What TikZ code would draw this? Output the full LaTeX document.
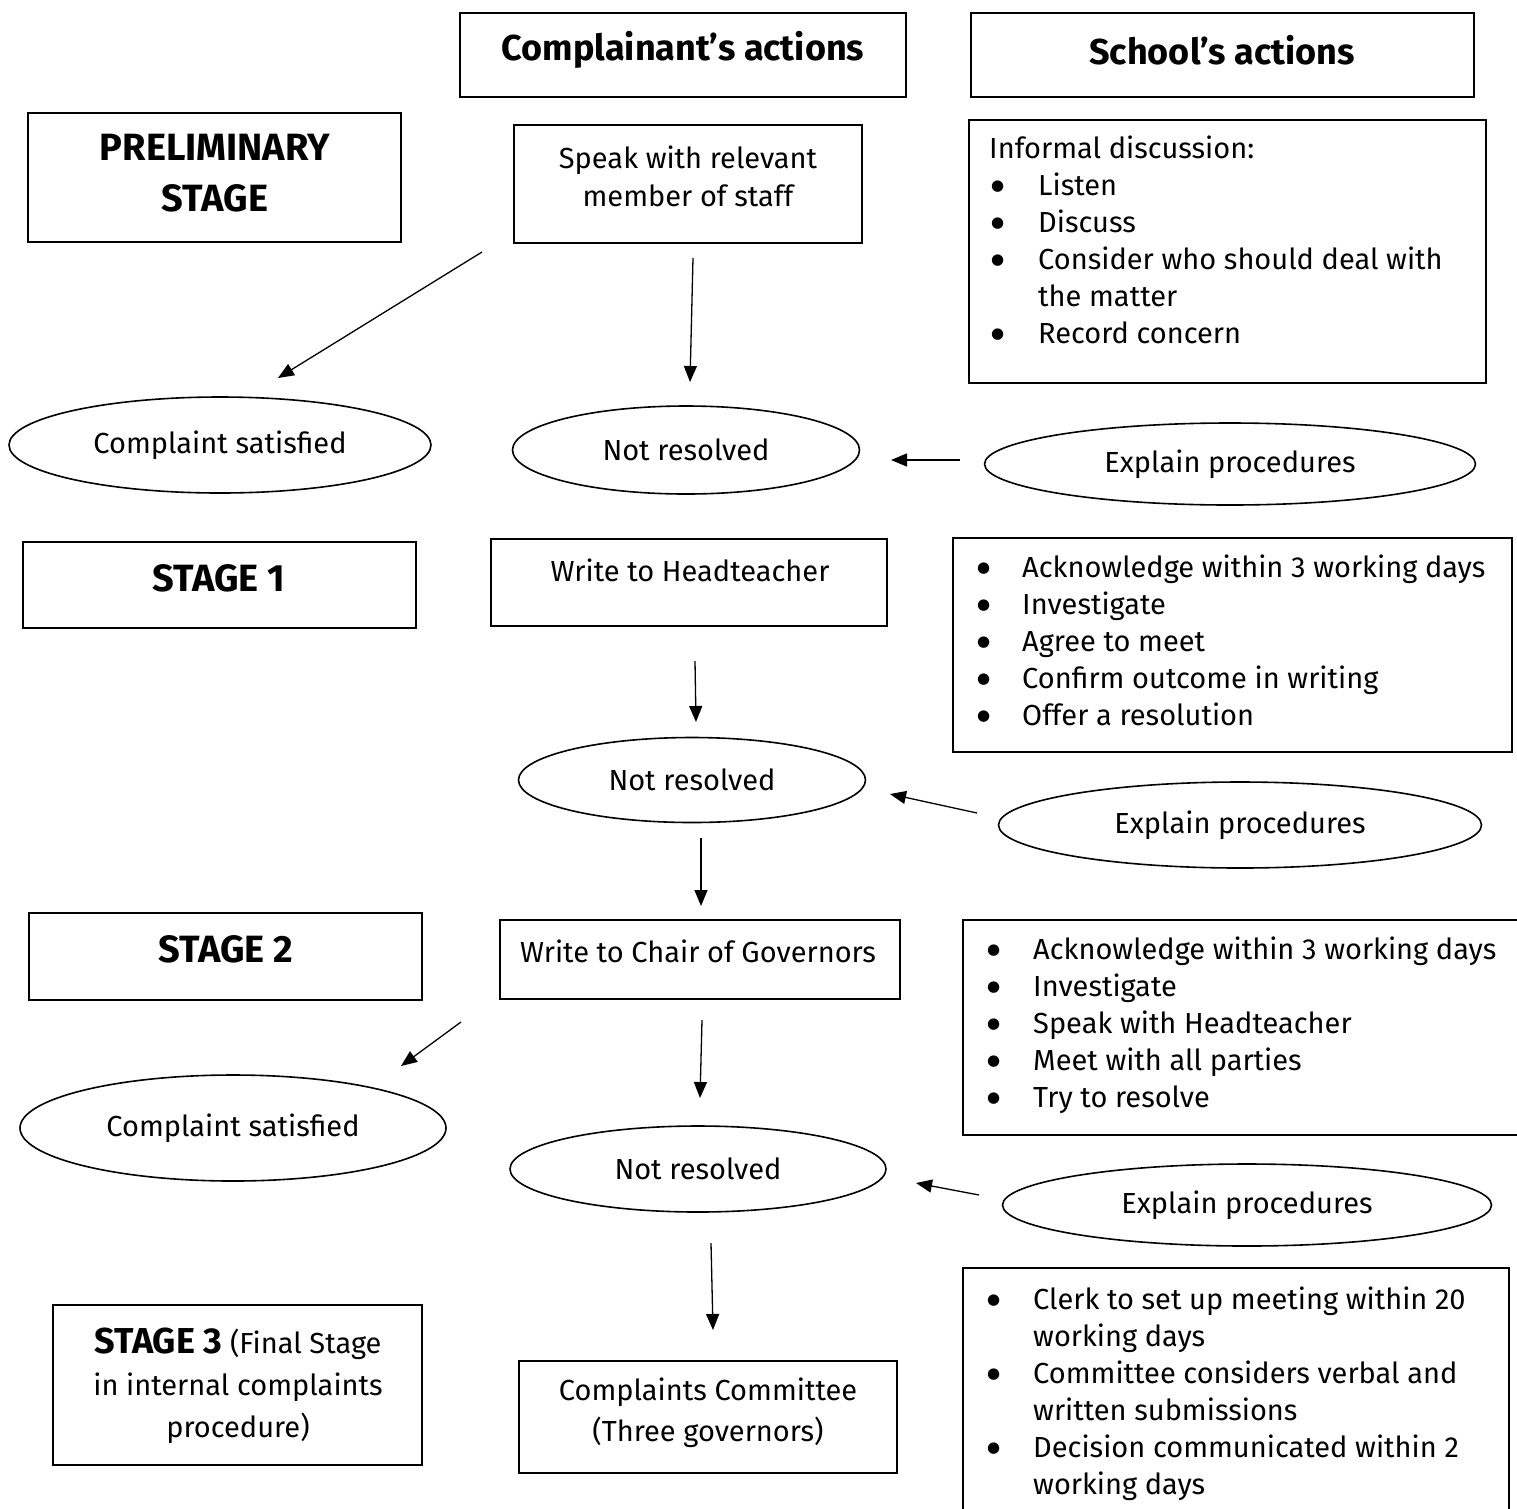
\documentclass[tikz,border=0pt]{standalone}
\usepackage{fontspec}
\setmainfont{Fira Sans}
\newfontfamily\dvsans{DejaVu Sans}
\usetikzlibrary{shapes.geometric,arrows.meta,fit}
\newcommand{\bul}[1]{\makebox[#1][l]{\hspace*{2pt}\raisebox{5pt}{\dvsans\fontsize{15}{15}\selectfont ●}}}
\begin{document}
\begin{tikzpicture}[x=1pt,y=-1pt,
  box/.style={draw,line width=1.5pt,inner sep=0pt},
  oval/.style={draw,ellipse,line width=1.6pt,inner sep=0pt,font=\fontsize{29}{37}\selectfont},
  txt/.style={font=\fontsize{29}{38}\selectfont,align=center,inner sep=0pt},
  hd/.style={font=\fontsize{36}{51}\selectfont\bfseries,align=center,inner sep=0pt},
  sg/.style={font=\fontsize{38}{51}\selectfont\bfseries,align=center,inner sep=0pt},
  lst/.style={font=\fontsize{29}{37}\selectfont,align=left,inner sep=0pt,anchor=north west},
  arr/.style={line width=1.3pt,-{Triangle[length=16pt,width=13pt]}}]
\useasboundingbox (0,0) rectangle (1517,1508);
\fill[white] (0,0) rectangle (1517,1508);

% header boxes
\node[box,fit={(460,13) (906,97)}] (hC) {};
\node[hd] (hCt) at (683,50) {Complainant’s actions};
\node[box,fit={(971,13) (1474,97)}] (hS) {};
\node[hd] (hSt) at (1222,50) {School’s actions};

% preliminary stage
\node[box,fit={(28,113) (401,242)}] (pre) {};
\node[sg] (pret) at (215,173) {PRELIMINARY\\STAGE};
\node[box,fit={(514,125) (862,243)}] (spk) {};
\node[txt] (spkt) at (688,176) {Speak with relevant\\member of staff};
\node[box,fit={(969,120) (1486,383)}] (inf) {};
\node[lst] (inft) at (989,136) {Informal discussion:\\
\bul{49pt}Listen\\
\bul{49pt}Discuss\\
\bul{49pt}Consider who should deal with\\
\hspace*{49pt}the matter\\
\bul{49pt}Record concern};

\node[oval,minimum width=422pt,minimum height=96pt] (cs1) at (220,445) {Complaint satisfied};
\node[oval,minimum width=347pt,minimum height=88pt] (nr1) at (686,450) {Not resolved};
\node[oval,minimum width=491pt,minimum height=82pt] (ep1) at (1230,464) {Explain procedures};

% stage 1
\node[box,fit={(23,542) (416,628)}] (st1) {};
\node[sg] (st1t) at (219,578) {STAGE 1};
\node[box,fit={(491,539) (887,626)}] (wht) {};
\node[txt] (whtt) at (690,570) {Write to Headteacher};
\node[box,fit={(953,538) (1512,752)}] (l1) {};
\node[lst] (l1t) at (975,555) {\bul{47pt}Acknowledge within 3 working days\\
\bul{47pt}Investigate\\
\bul{47pt}Agree to meet\\
\bul{47pt}Confirm outcome in writing\\
\bul{47pt}Offer a resolution};

\node[oval,minimum width=347pt,minimum height=85pt] (nr2) at (692,780) {Not resolved};
\node[oval,minimum width=483pt,minimum height=86pt] (ep2) at (1240,825) {Explain procedures};

% stage 2
\node[box,fit={(29,913) (422,1000)}] (st2) {};
\node[sg] (st2t) at (226,949) {STAGE 2};
\node[box,fit={(500,920) (900,999)}] (wcg) {};
\node[txt] (wcgt) at (698,951) {Write to Chair of Governors};
\node[box,fit={(963,920) (1530,1135)}] (l2) {};
\node[lst] (l2t) at (985,937) {\bul{48pt}Acknowledge within 3 working days\\
\bul{48pt}Investigate\\
\bul{48pt}Speak with Headteacher\\
\bul{48pt}Meet with all parties\\
\bul{48pt}Try to resolve};

\node[oval,minimum width=426pt,minimum height=106pt] (cs2) at (233,1128) {Complaint satisfied};
\node[oval,minimum width=376pt,minimum height=86pt] (nr3) at (698,1169) {Not resolved};
\node[oval,minimum width=489pt,minimum height=82pt] (ep3) at (1247,1205) {Explain procedures};

% stage 3
\node[box,fit={(53,1305) (422,1465)}] (st3) {};
\node[txt,font=\fontsize{29}{42}\selectfont] (st3t) at (238,1386) {{\fontsize{36}{42}\selectfont\bfseries STAGE 3} (Final Stage\\in internal complaints\\procedure)};
\node[box,fit={(519,1361) (897,1473)}] (cc) {};
\node[txt,font=\fontsize{29}{41}\selectfont] (cct) at (708,1413) {Complaints Committee\\(Three governors)};
\node[box,fit={(963,1268) (1509,1530)}] (l3) {};
\node[lst] (l3t) at (985,1287) {\bul{48pt}Clerk to set up meeting within 20\\
\hspace*{48pt}working days\\
\bul{48pt}Committee considers verbal and\\
\hspace*{48pt}written submissions\\
\bul{48pt}Decision communicated within 2\\
\hspace*{48pt}working days};

% arrow end points
\coordinate (a1s) at (482,252); \coordinate (a1e) at (278,378);
\coordinate (a2s) at (693,258); \coordinate (a2e) at (690,382);
\coordinate (a3s) at (960,460); \coordinate (a3e) at (891,460);
\coordinate (a4s) at (695,661); \coordinate (a4e) at (696,722);
\coordinate (a5s) at (977,813); \coordinate (a5e) at (890,794);
\coordinate (a6s) at (701,838); \coordinate (a6e) at (701,906);
\coordinate (a7s) at (461,1022); \coordinate (a7e) at (401,1066);
\coordinate (a8s) at (702,1020); \coordinate (a8e) at (700,1098);
\coordinate (a9s) at (979,1195); \coordinate (a9e) at (916,1183);
\coordinate (a10s) at (711,1243); \coordinate (a10e) at (713,1330);

\draw[arr] (a1s) -- (a1e);
\draw[arr] (a2s) -- (a2e);
\draw[arr] (a3s) -- (a3e);
\draw[arr] (a4s) -- (a4e);
\draw[arr] (a5s) -- (a5e);
\draw[arr] (a6s) -- (a6e);
\draw[arr] (a7s) -- (a7e);
\draw[arr] (a8s) -- (a8e);
\draw[arr] (a9s) -- (a9e);
\draw[arr] (a10s) -- (a10e);
\end{tikzpicture}
\end{document}
